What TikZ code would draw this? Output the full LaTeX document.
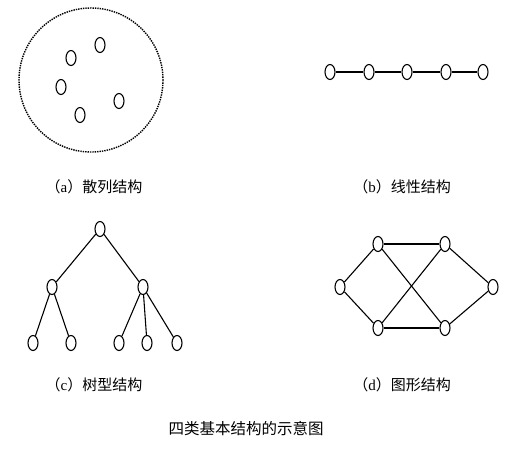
\documentclass[tikz,border=0pt]{standalone}
\usepackage{fontspec}
\setmainfont{Liberation Serif}
\newfontfamily\cjk{Noto Sans CJK SC}
\usetikzlibrary{shapes.geometric}
\tikzset{
    elem/.style={draw, ellipse, minimum width=10pt, minimum height=15pt, inner sep=0pt, line width=1.1pt},
    link/.style={line width=1.1pt},
    lbl/.style={font=\fontsize{15}{17}\selectfont},
}
\newcommand{\sublbl}[2]{{\cjk （}#1{\cjk ）#2}}

\begin{document}
\begin{tikzpicture}[x=1pt, y=-1pt]
    \useasboundingbox[fill=white] (0,0) rectangle (516,458);

    % (a) scattered
    \draw[dotted, line width=1.4pt, dash pattern=on 1.4pt off 1pt] (91,80) circle (72);
    \node[elem] (a1) at (100,45) {};
    \node[elem] (a2) at (71,58) {};
    \node[elem] (a3) at (61,87) {};
    \node[elem] (a4) at (119,101) {};
    \node[elem] (a5) at (80,115) {};
    \node[lbl] (la) at (94,187) {\sublbl{a}{散列结构}};

    % (b) linear
    \node[elem] (b1) at (330,72) {};
    \node[elem] (b2) at (369,72) {};
    \node[elem] (b3) at (407,72) {};
    \node[elem] (b4) at (446,72) {};
    \node[elem] (b5) at (483,72) {};
    \draw[link] (b1) -- (b2) -- (b3) -- (b4) -- (b5);
    \node[lbl] (lb) at (402,187) {\sublbl{b}{线性结构}};

    % (c) tree
    \node[elem] (root) at (100,229) {};
    \node[elem] (cl) at (52,287) {};
    \node[elem] (cr) at (143,287) {};
    \node[elem] (c1) at (33,343) {};
    \node[elem] (c2) at (71,343) {};
    \node[elem] (c3) at (119,343) {};
    \node[elem] (c4) at (147,343) {};
    \node[elem] (c5) at (177,343) {};
    \draw[link] (root) -- (cl);
    \draw[link] (root) -- (cr);
    \draw[link] (cl) -- (c1);
    \draw[link] (cl) -- (c2);
    \draw[link] (cr) -- (c3);
    \draw[link] (cr) -- (c4);
    \draw[link] (cr) -- (c5);
    \node[lbl] (lc) at (94,385) {\sublbl{c}{树型结构}};

    % (d) graph
    \node[elem] (tl) at (378,244) {};
    \node[elem] (tr) at (445,244) {};
    \node[elem] (dl) at (340,287) {};
    \node[elem] (dr) at (493,287) {};
    \node[elem] (bl) at (378,328) {};
    \node[elem] (br) at (445,328) {};
    \draw[link] (tl) -- (tr);
    \draw[link] (tl) -- (dl);
    \draw[link] (dl) -- (bl);
    \draw[link] (bl) -- (br);
    \draw[link] (tr) -- (dr);
    \draw[link] (dr) -- (br);
    \draw[link] (tl) -- (br);
    \draw[link] (tr) -- (bl);
    \node[lbl] (ld) at (402,385) {\sublbl{d}{图形结构}};

    \node[font=\fontsize{15.5}{18}\selectfont\cjk] (cap) at (246,429) {四类基本结构的示意图};
\end{tikzpicture}
\end{document}
